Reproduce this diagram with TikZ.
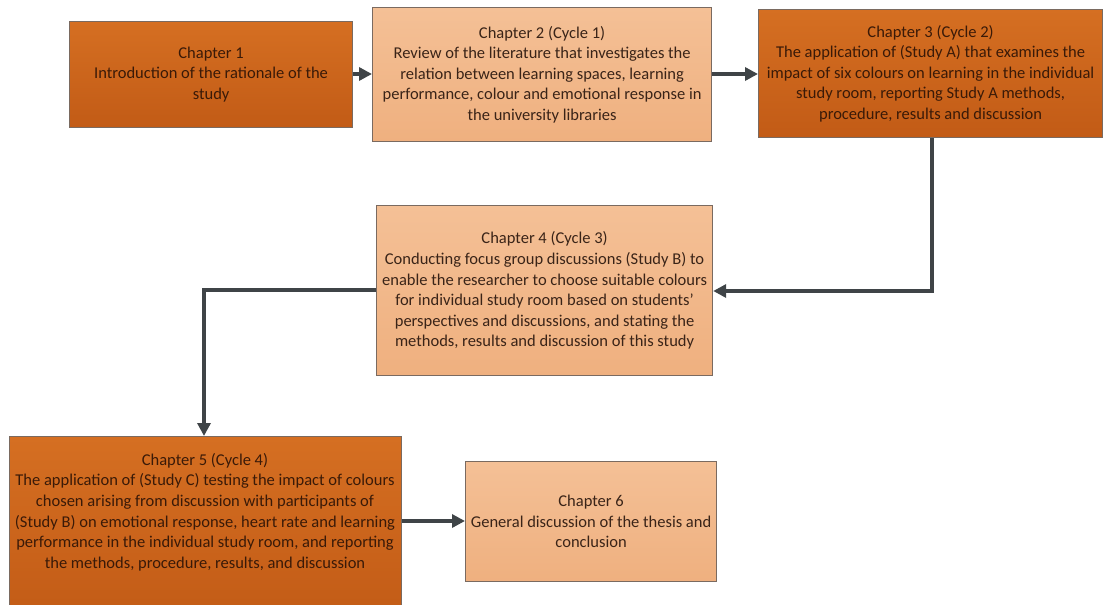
\documentclass[tikz,border=0pt]{standalone}
\usepackage{fontspec}
\setmainfont{Carlito}
\usetikzlibrary{arrows.meta}
\definecolor{darkfillA}{HTML}{D56F22}
\definecolor{darkfillB}{HTML}{C25B16}
\definecolor{lightfillA}{HTML}{F4C096}
\definecolor{lightfillB}{HTML}{EFB07F}
\definecolor{boxedge}{HTML}{7A6A60}
\definecolor{inkdark}{HTML}{3A1A08}
\definecolor{inklight}{HTML}{3A2418}
\definecolor{linkgray}{HTML}{3F4447}
\tikzset{
  x=1pt, y=-1pt,
  chapbox/.style={draw=boxedge, line width=1.2pt, rectangle, anchor=north west,
    align=center, inner sep=2pt, font=\fontsize{16.5}{20.6}\selectfont},
  darkbox/.style={chapbox, top color=darkfillA, bottom color=darkfillB, text=inkdark},
  lightbox/.style={chapbox, top color=lightfillA, bottom color=lightfillB, text=inklight},
  txt/.style={align=center, font=\fontsize{16.5}{20.6}\selectfont, text=inkdark, inner sep=0pt},
  link/.style={draw=linkgray, line width=3.4pt, -{Triangle[length=13pt,width=13pt]}}
}
\begin{document}
\begin{tikzpicture}
\useasboundingbox (0,0) rectangle (1104,605);
\begin{scope}
\clip (0,0) rectangle (1104,605);
% chapter boxes
\node[darkbox, minimum width=283pt, minimum height=106pt] (c1) at (69,21)
  {Chapter 1\\Introduction of the rationale of the\\study};
\node[lightbox, minimum width=339pt, minimum height=134pt] (c2) at (372,7)
  {Chapter 2 (Cycle 1)\\Review of the literature that investigates the\\relation between learning spaces, learning\\performance, colour and emotional response in\\the university libraries};
\node[darkbox, minimum width=344pt, minimum height=128pt] (c3) at (758,9)
  {Chapter 3 (Cycle 2)\\The application of (Study A) that examines the\\impact of six colours on learning in the individual\\study room, reporting Study A methods,\\procedure, results and discussion};
\node[lightbox, minimum width=336pt, minimum height=170pt] (c4) at (376,205)
  {Chapter 4 (Cycle 3)\\Conducting focus group discussions (Study B) to\\enable the researcher to choose suitable colours\\for individual study room based on students'\\perspectives and discussions, and stating the\\methods, results and discussion of this study};
\node[darkbox, minimum width=392pt, minimum height=185pt] (c5) at (9,436) {};
\node[txt] (c5t) at (205,512)
  {Chapter 5 (Cycle 4)\\The application of (Study C) testing the impact of colours\\chosen arising from discussion with participants of\\(Study B) on emotional response, heart rate and learning\\performance in the individual study room, and reporting\\the methods, procedure, results, and discussion};
\node[lightbox, minimum width=251pt, minimum height=120pt] (c6) at (465,461)
  {Chapter 6\\General discussion of the thesis and\\conclusion};
\end{scope}
% connectors
\draw[link] (c1.east |- 0,74) -- (c2.west |- 0,74);
\draw[link] (c2.east |- 0,74) -- (c3.west |- 0,74);
\draw[link] (c3.south -| 932,0) -- (932,291) -- (c4.east |- 0,291);
\draw[link] (c4.west |- 0,290) -- (204,290) -- (c5.north -| 204,0);
\draw[link] (c5.east |- 0,521) -- (c6.west |- 0,521);
\end{tikzpicture}
\end{document}
